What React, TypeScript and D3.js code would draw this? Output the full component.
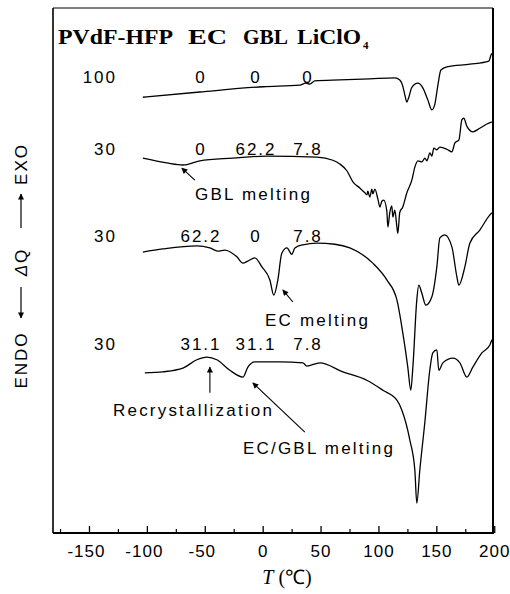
import React from 'react';
import * as d3 from 'd3';

const W = 510;
const H = 594;
const FRAME = { left: 53, right: 493, top: 8, bottom: 533 };

// temperature axis
const T_DOMAIN: [number, number] = [-181.5, 198.5];
const T_TICKS = [-150, -100, -50, 0, 50, 100, 150, 200];
const T_MINOR = [-175, -125, -75, -25, 25, 75, 125, 175];

// composition table (wt%)
const HEADER = ['PVdF-HFP', 'EC', 'GBL', 'LiClO'];
const PVDF = [100, 30, 30, 30];
const EC = [0, 0, 62.2, 31.1];
const GBL = [0, 62.2, 0, 31.1];
const LICLO4 = [0, 7.8, 7.8, 7.8];

// DSC traces: [T (°C), heat flow offset (a.u.)]
const trace100: [number, number][] = [
  [-103.9, 83.0], [-54.7, 84.0], [0, 85.0], [31.7, 85.3], [36.9, 85.7], [40.3, 85.5],
  [44.6, 86.1], [66.2, 86.3], [92.1, 86.5], [113.7, 86.7], [118.0, 86.3], [120.6, 85.1],
  [122.4, 83.4], [124.1, 82.1], [125.8, 83.0], [128.4, 84.9], [133.6, 85.7], [137.9, 84.8],
  [142.2, 82.5], [145.7, 80.6], [148.3, 81.7], [150.9, 85.3], [153.5, 88.2], [158.7, 88.8],
  [178.5, 89.3], [194.9, 89.9], [196.7, 91.0], [197.5, 91.4],
];

const traceGBL: [number, number][] = [
  [-103.9, 71.4], [-83.2, 70.5], [-69.3, 70.1], [-54.7, 70.9], [-26.2, 71.4], [3.2, 71.8],
  [46.4, 71.6], [60.2, 71.0], [66.2, 70.3], [72.3, 69.0], [77.5, 66.9], [83.5, 65.7],
  [87.8, 64.8], [89.6, 64.4], [90.4, 65.1], [92.1, 64.0], [93.9, 65.5], [94.7, 64.6],
  [96.5, 65.5], [99.1, 63.6], [100.8, 62.1], [102.5, 63.2], [104.2, 63.4], [106.8, 61.3],
  [107.7, 58.3], [109.4, 61.1], [111.1, 62.3], [112.0, 60.2], [113.7, 61.5], [115.5, 58.3],
  [116.3, 57.1], [118.0, 61.1], [120.6, 62.1], [124.1, 64.8], [128.4, 67.2], [131.0, 69.7],
  [133.6, 70.9], [137.1, 70.7], [139.7, 71.4], [141.4, 70.9], [144.0, 72.4], [145.7, 71.8],
  [147.4, 73.3], [150.0, 73.0], [152.6, 73.5], [158.7, 73.1], [163.0, 72.6], [165.6, 74.3],
  [169.1, 74.9], [171.6, 78.7], [173.3, 79.0], [175.9, 77.5], [181.1, 76.4], [187.1, 77.1],
  [193.2, 77.9], [197.5, 78.3],
];

const traceEC: [number, number][] = [
  [-103.9, 53.5], [-86.6, 54.1], [-57.3, 54.7], [-46.0, 54.3], [-39.1, 53.7], [-33.1, 53.9],
  [-22.7, 52.6], [-17.5, 51.4], [-13.2, 51.8], [-7.2, 52.4], [-1.1, 50.7], [5.8, 48.2],
  [9.2, 45.3], [12.7, 48.2], [16.1, 53.3], [20.5, 54.3], [24.8, 53.1], [27.4, 54.3],
  [34.3, 54.9], [46.4, 55.2], [61.9, 55.0], [74.9, 54.3], [94.7, 51.4], [106.8, 48.2],
  [115.5, 44.4], [120.6, 38.1], [124.9, 31.6], [127.5, 27.2], [129.3, 31.6], [132.7, 44.4],
  [134.4, 47.2], [137.0, 45.7], [140.5, 43.4], [145.7, 45.0], [150.0, 50.7], [152.6, 56.2],
  [156.9, 56.8], [163.0, 54.5], [167.3, 48.8], [169.0, 47.2], [174.2, 50.7], [178.5, 55.2],
  [187.1, 57.7], [195.8, 60.6], [197.5, 61.0],
];

const traceMix: [number, number][] = [
  [-102.2, 30.5], [-86.6, 30.7], [-69.3, 31.4], [-57.3, 33.0], [-48.6, 33.5], [-40.0, 33.0],
  [-28.8, 31.0], [-17.5, 29.7], [-13.2, 31.6], [-7.2, 32.6], [14.4, 32.6], [34.3, 32.4],
  [37.7, 31.8], [48.9, 32.4], [68.8, 30.7], [89.5, 29.1], [103.4, 27.2], [115.5, 25.3],
  [119.8, 23.4], [126.7, 17.7], [131.0, 12.0], [132.7, 5.7], [135.3, 12.0], [139.6, 21.0],
  [143.9, 31.0], [146.5, 34.3], [150.0, 34.9], [151.7, 31.0], [155.2, 32.4], [163.8, 33.3],
  [169.9, 32.4], [175.9, 29.7], [181.1, 31.6], [188.9, 34.3], [195.8, 35.8], [197.5, 36.8],
];

const TRACES = [trace100, traceGBL, traceEC, traceMix];

// annotations: arrow tip / tail in data units
const NOTES = [
  { text: 'GBL melting', tip: [-70.2, 69.5], tail: [-59, 67.2] },
  { text: 'EC melting', tip: [17, 46.3], tail: [25.6, 44] },
  { text: 'Recrystallization', tip: [-46, 31.6], tail: [-46, 26.7] },
  { text: 'EC/GBL melting', tip: [-8.9, 28.6], tail: [36, 19.2] },
];
const NOTE_POS = [[195, 200], [265, 326], [113, 416], [243, 454]];

const ROW_Y = [83, 155, 242, 350];
const COL_X = [201, 256, 308];
const HEADER_X = [58, 188, 243, 297];
const HEADER_W = [115, 39, 45, 64];

const SANS = '"Liberation Sans", Arial, Helvetica, sans-serif';
const SERIF = '"Liberation Serif", "Times New Roman", Times, serif';

const App: React.FC = () => {
  const x = d3.scaleLinear().domain(T_DOMAIN).range([FRAME.left, FRAME.right]);
  const y = d3.scaleLinear().domain([0, 100]).range([FRAME.bottom, FRAME.top]);
  const line = d3.line<[number, number]>()
    .x(d => x(d[0]))
    .y(d => y(d[1]))
    .curve(d3.curveMonotoneX);

  const fmt = (v: number) => String(v);

  return (
    <svg width={W} height={H} viewBox={`0 0 ${W} ${H}`}
      style={{ position: 'absolute', left: 0, top: 0, background: '#fff' }}>
      <defs>
        <marker id="ah" viewBox="0 0 10 10" refX="9" refY="5" markerWidth="7" markerHeight="6"
          markerUnits="userSpaceOnUse" orient="auto">
          <path d="M0,0 L10,5 L0,10 Z" fill="#000" />
        </marker>
      </defs>
      <rect width={W} height={H} fill="#fff" />

      {/* frame */}
      <line x1={FRAME.left} x2={FRAME.right} y1={FRAME.top} y2={FRAME.top} stroke="#000" strokeWidth={1} />
      <line x1={FRAME.left} x2={FRAME.left} y1={FRAME.top} y2={FRAME.bottom} stroke="#000" strokeWidth={1.6} />
      <line x1={FRAME.right} x2={FRAME.right} y1={FRAME.top} y2={FRAME.bottom + 1} stroke="#000" strokeWidth={2} />
      <line x1={FRAME.left} x2={FRAME.right} y1={FRAME.bottom} y2={FRAME.bottom} stroke="#000" strokeWidth={2} />

      {/* ticks */}
      {T_TICKS.map(t => (
        <g key={'t' + t}>
          <line x1={x(t)} x2={x(t)} y1={FRAME.bottom} y2={FRAME.bottom - 7} stroke="#000" strokeWidth={1.3} />
          <text x={x(t) - (t < 0 ? 3 : 0)} y={557} textAnchor="middle" fontFamily={SANS} fontSize={17}
            letterSpacing={1}>{t < 0 ? '-' + Math.abs(t) : fmt(t)}</text>
        </g>
      ))}
      {T_MINOR.map(t => (
        <line key={'m' + t} x1={x(t)} x2={x(t)} y1={FRAME.bottom} y2={FRAME.bottom - 4} stroke="#000" strokeWidth={1.2} />
      ))}

      {/* traces */}
      {TRACES.map((tr, i) => (
        <path key={i} d={line(tr) || ''} fill="none" stroke="#000" strokeWidth={1.3} strokeLinejoin="round" />
      ))}

      {/* header */}
      {HEADER.map((h, i) => (
        <text key={h} x={HEADER_X[i]} y={44} fontFamily={SERIF} fontWeight="bold" fontSize={20}
          textLength={HEADER_W[i]} lengthAdjust="spacingAndGlyphs">{h}</text>
      ))}
      <text x={363} y={49} fontFamily={SERIF} fontWeight="bold" fontSize={11}>4</text>

      {/* composition rows */}
      {PVDF.map((p, i) => (
        <g key={'r' + i} fontFamily={SANS} fontSize={17} letterSpacing={2}>
          <text x={117} y={ROW_Y[i]} textAnchor="end">{fmt(p)}</text>
          <text x={COL_X[0]} y={ROW_Y[i]} textAnchor="middle">{fmt(EC[i])}</text>
          <text x={COL_X[1]} y={ROW_Y[i]} textAnchor="middle">{fmt(GBL[i])}</text>
          <text x={COL_X[2]} y={ROW_Y[i]} textAnchor="middle">{fmt(LICLO4[i])}</text>
        </g>
      ))}

      {/* annotations */}
      {NOTES.map((n, i) => (
        <g key={n.text}>
          <line x1={x(n.tail[0])} y1={y(n.tail[1])} x2={x(n.tip[0])} y2={y(n.tip[1])}
            stroke="#000" strokeWidth={1.1} markerEnd="url(#ah)" />
          <text x={NOTE_POS[i][0]} y={NOTE_POS[i][1]} fontFamily={SANS} fontSize={17} letterSpacing={2.2}>{n.text}</text>
        </g>
      ))}

      {/* y axis label */}
      <g fontFamily={SANS} fontSize={17} letterSpacing={2}>
        <text transform="translate(27,360) rotate(-90)" textAnchor="middle">ENDO</text>
        <text transform="translate(27,262) rotate(-90)" textAnchor="middle">
          <tspan fontStyle="italic">Δ</tspan>Q
        </text>
        <text transform="translate(27,164) rotate(-90)" textAnchor="middle">EXO</text>
      </g>
      <line x1={21} x2={21} y1={287} y2={318} stroke="#000" strokeWidth={1.2} markerEnd="url(#ah)" />
      <line x1={21} x2={21} y1={228} y2={194} stroke="#000" strokeWidth={1.2} markerEnd="url(#ah)" />

      {/* x axis label */}
      <text x={287} y={584} textAnchor="middle" fontFamily={SERIF} fontSize={20}>
        <tspan fontStyle="italic">T</tspan> (℃)
      </text>
    </svg>
  );
};

export default App;
